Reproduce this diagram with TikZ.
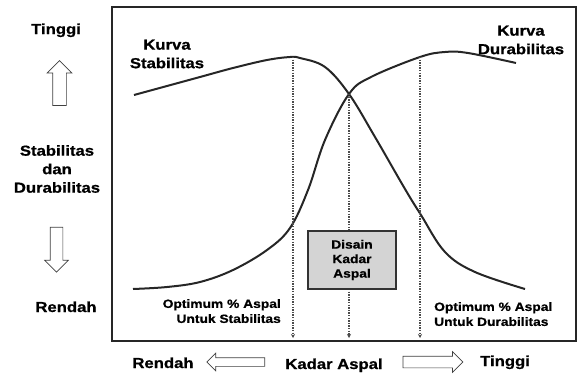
\documentclass[tikz,border=0pt]{standalone}
\usepackage{fontspec}
\newfontfamily\boldsans[FakeStretch=1.15,FakeBold=0.8]{Liberation Sans Bold}
\usetikzlibrary{shapes.arrows,arrows.meta}
\tikzset{
  lbl/.style={font=\boldsans\fontsize{14.5}{18.5}\selectfont, align=center, inner sep=0pt},
  note/.style={font=\boldsans\fontsize{12}{15}\selectfont, inner sep=0pt},
  curve/.style={line width=2pt, black!85},
  guide/.style={dash pattern=on 1.3pt off 1.3pt, line width=1.5pt, black!70, -{Stealth[length=4pt,width=4pt]}},
  bigarrow/.style={single arrow, draw=black!75, fill=white, line width=0.7pt, inner sep=0pt}
}
\begin{document}
\begin{tikzpicture}[x=1pt,y=-1pt]
    \useasboundingbox (0,0) rectangle (578,373);
    % frame
    \draw[line width=2pt, black!85] (112,7) rectangle (576,341);
    % curves
    \draw[curve] plot[smooth, tension=0.6] coordinates {(134,95) (167,86) (200,77) (233,68) (267,60) (290,57) (300,58) (325,67) (349,94) (375,137) (405,189) (421,215) (445,252) (475,272) (525,289)};
    \draw[curve] plot[smooth, tension=0.6] coordinates {(133,289) (167,287) (200,282) (233,270) (267,250) (290,228) (308,190) (325,140) (349,94) (371,77) (420,57) (445,52) (468,53) (516,63)};
    % optimum points
    \coordinate (optS) at (293,57);
    \coordinate (mid) at (349,94);
    \coordinate (optD) at (420,57);
    \draw[guide] (optS) -- (optS |- 0,338);
    \draw[guide] (mid) -- (mid |- 0,338);
    \draw[guide] (optD) -- (optD |- 0,338);
    % design box
    \node[draw=black!80, fill=black!17, line width=1.2pt, minimum width=88pt, minimum height=58pt, align=center, font=\boldsans\fontsize{12}{14.5}\selectfont] (disain) at (352,260) {Disain\\Kadar\\Aspal};
    % labels
    \node[lbl, anchor=base] (tinggiY) at (56,34) {Tinggi};
    \node[lbl] (sd) at (57,169) {Stabilitas\\dan\\Durabilitas};
    \node[lbl, anchor=base] (rendahY) at (66,312) {Rendah};
    \node[lbl] (kS) at (167,54) {Kurva\\Stabilitas};
    \node[lbl] (kD) at (521,40) {Kurva\\Durabilitas};
    \node[note, align=right, anchor=north east] (oS) at (281,299) {Optimum \% Aspal\\Untuk Stabilitas};
    \node[note, align=left, anchor=north west] (oD) at (434,302) {Optimum \% Aspal\\Untuk Durabilitas};
    \node[lbl, anchor=base] (rendahX) at (163,368) {Rendah};
    \node[lbl, anchor=base] (kadar) at (334,369) {Kadar Aspal};
    \node[lbl, anchor=base] (tinggiX) at (505,366) {Tinggi};
    % outline arrows
    \node[bigarrow, rotate=90, minimum height=45pt, minimum width=23pt, single arrow head extend=5.5pt, inner sep=6.5pt] (up) at (59.5,86.5) {};
    \node[bigarrow, rotate=-90, minimum height=45pt, minimum width=23pt, single arrow head extend=5.5pt, inner sep=6pt] (down) at (56.5,246.5) {};
    \node[bigarrow, rotate=180, minimum height=58pt, minimum width=17pt, single arrow head extend=4.5pt, inner sep=4pt] (left) at (238,362) {};
    \node[bigarrow, minimum height=60pt, minimum width=20pt, single arrow head extend=4.5pt, inner sep=5.5pt] (right) at (430,362) {};
\end{tikzpicture}
\end{document}
